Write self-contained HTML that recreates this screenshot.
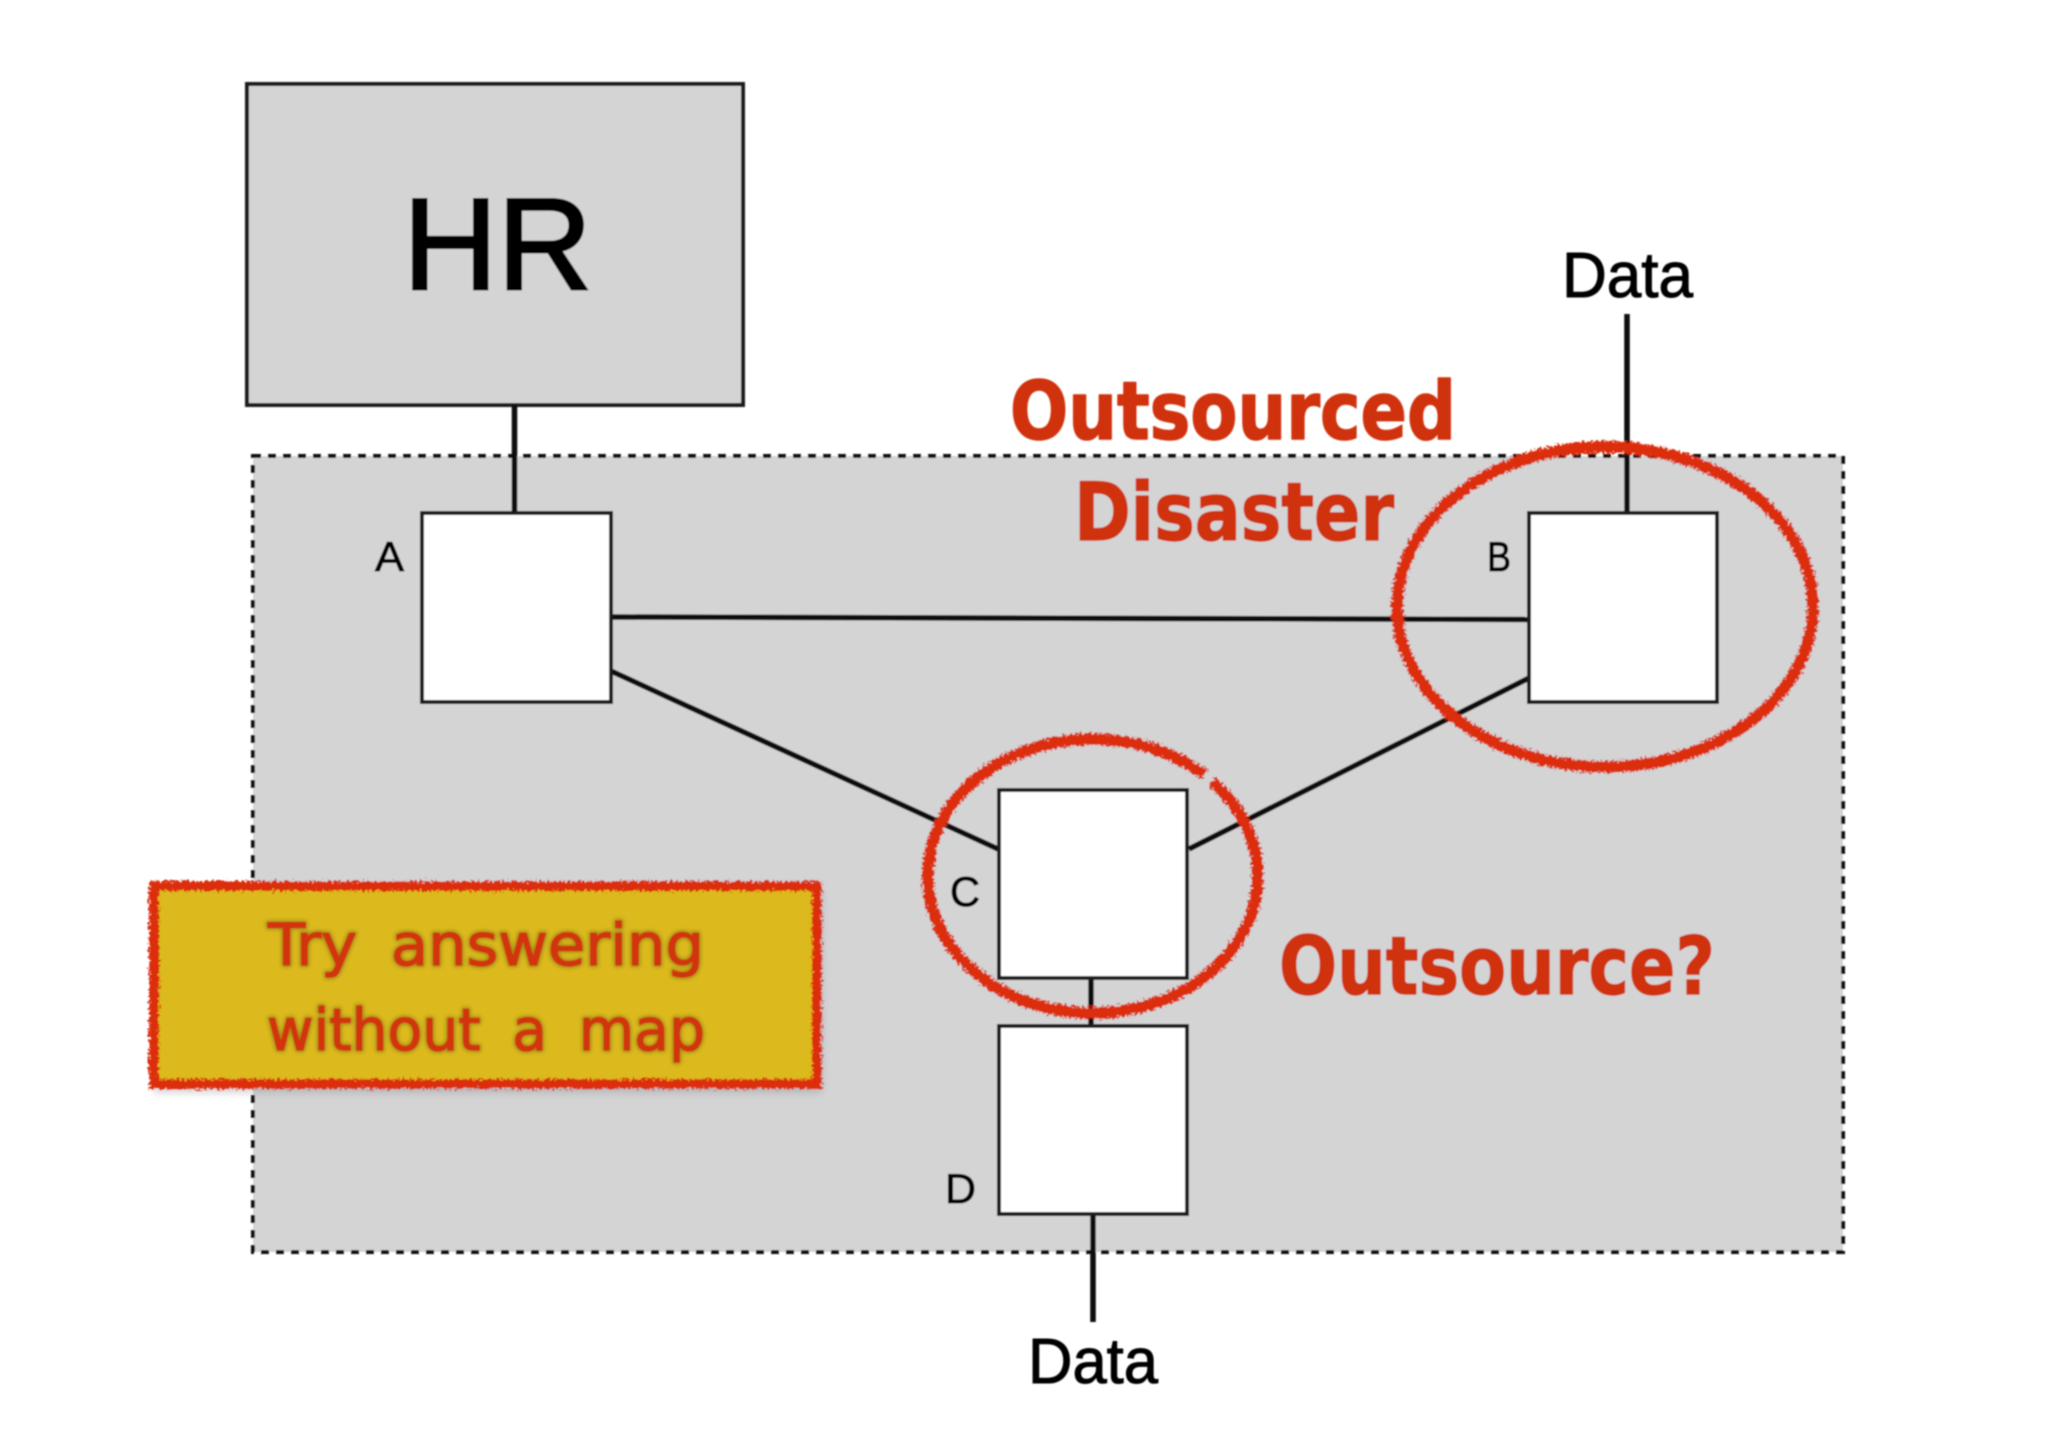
<!DOCTYPE html>
<html>
<head>
<meta charset="utf-8">
<style>
html,body{margin:0;padding:0;background:#fff;width:2048px;height:1447px;overflow:hidden}
svg{display:block}
text{font-family:"Liberation Sans",sans-serif;fill:#000;stroke:#000;stroke-width:1}
.red{font-family:"DejaVu Sans","Liberation Sans",sans-serif;font-weight:bold;fill:#d0300a;stroke:#d0300a;stroke-width:1.5;stroke-linejoin:round}
.note{font-family:"DejaVu Sans","Liberation Sans",sans-serif;fill:#d2340c;stroke:#d2340c;stroke-width:1.5;stroke-linejoin:round;word-spacing:14px}
</style>
</head>
<body>
<svg width="2048" height="1447" viewBox="0 0 2048 1447" xmlns="http://www.w3.org/2000/svg">
<defs>
<filter id="soft" filterUnits="userSpaceOnUse" x="0" y="0" width="2048" height="1447"><feGaussianBlur stdDeviation="0.8"/></filter>
<filter id="rough" filterUnits="userSpaceOnUse" x="0" y="0" width="2048" height="1447">
<feTurbulence type="fractalNoise" baseFrequency="0.4" numOctaves="2" seed="4" result="n"/>
<feDisplacementMap in="SourceGraphic" in2="n" scale="9" xChannelSelector="R" yChannelSelector="G"/>
</filter>
<filter id="shadow" filterUnits="userSpaceOnUse" x="0" y="0" width="2048" height="1447"><feGaussianBlur stdDeviation="4"/></filter>
<filter id="glow" filterUnits="userSpaceOnUse" x="0" y="0" width="2048" height="1447"><feGaussianBlur stdDeviation="1.8"/></filter>
</defs>
<g filter="url(#soft)">
<!-- outsourced region -->
<rect x="253" y="456" width="1590" height="796" fill="#d4d4d5" stroke="#111" stroke-width="4" stroke-dasharray="8 7"/>
<!-- HR -->
<rect x="247" y="84" width="496" height="321" fill="#d4d4d4" stroke="#1a1a1a" stroke-width="4"/>
<text x="403" y="289" font-size="130" textLength="189" lengthAdjust="spacingAndGlyphs" style="stroke-width:3">HR</text>
<!-- connectors -->
<g stroke="#0a0a0a" stroke-width="5.5" fill="none">
<line x1="514.5" y1="405" x2="514.5" y2="514"/>
<line x1="611" y1="617" x2="1529" y2="619.5"/>
<line x1="611" y1="671" x2="998" y2="849"/>
<line x1="1189" y1="849" x2="1529" y2="678"/>
<line x1="1627" y1="314" x2="1627" y2="514"/>
<line x1="1091" y1="978" x2="1091" y2="1026"/>
<line x1="1093" y1="1210" x2="1093" y2="1322"/>
</g>
<!-- nodes -->
<g fill="#fff" stroke="#1a1a1a" stroke-width="4">
<rect x="422" y="513" width="189" height="189"/>
<rect x="1529" y="513" width="188" height="189"/>
<rect x="999" y="790" width="188" height="188"/>
<rect x="999" y="1026" width="188" height="188"/>
</g>
<!-- labels -->
<text x="375" y="571" font-size="42" textLength="29" lengthAdjust="spacingAndGlyphs">A</text>
<text x="1487" y="571" font-size="42" textLength="24" lengthAdjust="spacingAndGlyphs">B</text>
<text x="950" y="906" font-size="42" textLength="30" lengthAdjust="spacingAndGlyphs">C</text>
<text x="945" y="1203" font-size="42" textLength="31" lengthAdjust="spacingAndGlyphs">D</text>
<text x="1562" y="297" font-size="64" textLength="131" lengthAdjust="spacingAndGlyphs">Data</text>
<text x="1028" y="1383" font-size="64" textLength="130" lengthAdjust="spacingAndGlyphs">Data</text>
<!-- red headings -->
<text class="red" x="1010" y="439" font-size="80" textLength="446" lengthAdjust="spacingAndGlyphs">Outsourced</text>
<text class="red" x="1074" y="540" font-size="80" textLength="320" lengthAdjust="spacingAndGlyphs">Disaster</text>
<text class="red" x="1279" y="994" font-size="80" textLength="436" lengthAdjust="spacingAndGlyphs">Outsource?</text>
<!-- yellow note -->
<rect x="154" y="889" width="668" height="204" fill="#777" opacity="0.3" filter="url(#shadow)"/>
<rect x="152" y="884" width="666" height="202" fill="#dcb91f"/>
<!-- note text -->
<g filter="url(#glow)" opacity="0.55">
<text class="note" style="fill:#6e6a10;stroke:#6e6a10;stroke-width:4" x="268" y="965" font-size="58" textLength="436" lengthAdjust="spacingAndGlyphs">Try answering</text>
<text class="note" style="fill:#6e6a10;stroke:#6e6a10;stroke-width:4" x="267" y="1050" font-size="58" textLength="438" lengthAdjust="spacingAndGlyphs">without a map</text>
</g>
<text class="note" x="268" y="965" font-size="58" textLength="436" lengthAdjust="spacingAndGlyphs">Try answering</text>
<text class="note" x="267" y="1050" font-size="58" textLength="438" lengthAdjust="spacingAndGlyphs">without a map</text>
<!-- rough annotations -->
<g filter="url(#rough)" fill="none" stroke="#dc2f08">
<ellipse cx="1605" cy="607" rx="208" ry="160" stroke-width="12"/>
<path d="M1212,781.5 A165,137 0 1 1 1204,775" stroke-width="12"/>
<rect x="154" y="886" width="663" height="198" stroke-width="10"/>
</g>
</g>
</svg>
</body>
</html>
